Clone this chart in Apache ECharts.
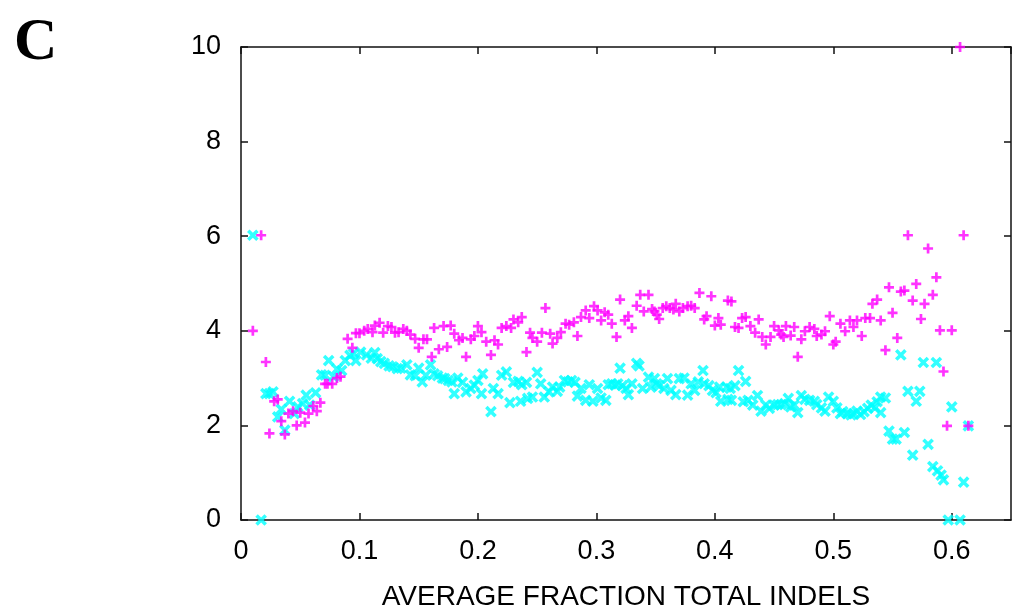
<!DOCTYPE html>
<html>
<head>
<meta charset="utf-8">
<script src="https://cdn.jsdelivr.net/npm/echarts@6/dist/echarts.min.js"></script>
<style>html,body{margin:0;padding:0;background:#fff;}#c{width:1013px;height:616px;}</style>
</head>
<body>
<div id="c"></div>
<script>
var panelLabel = 'C';
var xAxisTitle = 'AVERAGE FRACTION TOTAL INDELS';
var xTicks = [0, 0.1, 0.2, 0.3, 0.4, 0.5, 0.6];
var yTicks = [0, 2, 4, 6, 8, 10];

var magentaPoints = [
[0.010,4.00],[0.017,6.02],[0.021,3.34],[0.024,1.83],[0.028,2.51],[0.031,2.55],[0.034,2.09],[0.037,1.81],[0.040,2.25],[0.044,2.30],[0.047,2.00],[0.050,2.27],[0.054,2.06],[0.057,2.25],[0.061,2.41],[0.064,2.30],[0.067,2.48],[0.071,2.88],[0.073,2.88],[0.077,2.88],[0.081,3.00],[0.084,3.03],[0.090,3.83],[0.094,3.64],[0.097,3.95],[0.100,3.95],
[0.104,4.00],[0.107,4.04],[0.111,3.97],[0.113,4.11],[0.117,4.17],[0.120,3.96],[0.124,4.10],[0.127,4.08],[0.130,3.96],[0.133,3.97],[0.137,4.04],[0.140,4.00],[0.143,3.92],[0.147,3.83],[0.150,3.64],[0.154,3.82],[0.157,3.82],[0.161,3.45],[0.163,4.06],[0.167,3.61],[0.171,4.10],[0.174,3.66],[0.177,4.11],[0.180,3.94],[0.184,3.80],[0.187,3.85],[0.190,3.45],[0.194,3.82],[0.197,3.89],[0.200,4.10],[0.203,3.97],
[0.207,3.77],[0.211,3.49],[0.214,3.80],[0.217,3.71],[0.220,4.06],[0.224,4.10],[0.228,4.06],[0.230,4.24],[0.234,4.18],[0.237,4.29],[0.241,3.55],[0.244,3.96],[0.246,3.85],[0.250,3.77],[0.254,3.96],[0.257,4.48],[0.261,3.94],[0.263,3.73],[0.267,3.85],[0.270,3.97],[0.274,4.15],[0.277,4.13],[0.281,4.18],[0.284,3.89],[0.287,4.29],[0.291,4.43],[0.294,4.27],[0.298,4.52],[0.301,4.43],[0.304,4.22],
[0.307,4.39],[0.310,4.34],[0.313,4.15],[0.317,3.87],[0.320,4.66],[0.324,4.22],[0.327,4.31],[0.330,4.06],[0.334,4.53],[0.337,4.76],[0.340,4.41],[0.344,4.76],[0.347,4.46],[0.349,4.41],[0.351,4.34],[0.353,4.25],[0.356,4.48],[0.359,4.52],[0.362,4.48],[0.365,4.45],[0.367,4.57],[0.370,4.41],[0.373,4.48],[0.377,4.52],[0.380,4.53],[0.383,4.48],[0.387,4.80],[0.391,4.24],[0.393,4.31],[0.397,4.73],[0.400,4.11],[0.403,4.27],[0.405,4.13],
[0.411,4.64],[0.414,4.62],[0.417,4.08],[0.420,4.06],[0.423,4.27],[0.426,4.29],[0.430,4.10],[0.434,3.96],[0.437,4.24],[0.440,3.87],[0.443,3.71],[0.447,3.87],[0.450,4.10],[0.454,4.01],[0.456,3.92],[0.458,3.87],[0.460,4.10],[0.464,3.90],[0.467,4.08],[0.470,3.45],[0.473,3.82],[0.476,3.99],[0.480,4.08],[0.484,4.04],[0.486,3.89],[0.490,3.92],[0.493,3.99],[0.497,4.31],[0.500,3.71],[0.502,3.77],[0.506,4.15],
[0.510,3.99],[0.514,4.22],[0.517,4.08],[0.520,4.22],[0.524,3.89],[0.527,4.27],[0.531,4.27],[0.533,4.57],[0.537,4.66],[0.540,4.22],[0.544,3.59],[0.547,4.92],[0.550,4.38],[0.554,3.85],[0.557,4.83],[0.560,4.85],[0.563,6.02],[0.567,4.64],[0.570,4.99],[0.574,4.25],[0.577,4.57],[0.580,5.74],[0.584,4.76],[0.587,5.13],[0.590,4.01],[0.593,3.14],[0.596,1.99],[0.600,4.01],[0.607,10.0],[0.610,6.02],[0.614,1.99]
];

var cyanPoints = [
[0.010,6.02],[0.017,0.0],[0.021,2.67],[0.024,2.67],[0.027,2.71],[0.031,2.18],[0.034,2.34],[0.037,1.90],[0.041,2.51],[0.045,2.25],[0.048,2.39],[0.052,2.46],[0.055,2.64],[0.058,2.43],[0.063,2.69],[0.068,3.07],[0.071,3.06],[0.074,3.37],[0.078,3.03],[0.081,3.19],[0.085,3.16],[0.088,3.37],[0.092,3.48],[0.095,3.52],[0.097,3.37],[0.101,3.55],
[0.106,3.49],[0.110,3.42],[0.113,3.54],[0.115,3.41],[0.118,3.35],[0.121,3.31],[0.125,3.26],[0.128,3.24],[0.132,3.20],[0.135,3.21],[0.140,3.28],[0.143,3.07],[0.147,3.05],[0.150,3.21],[0.153,2.92],[0.156,3.06],[0.160,3.28],[0.163,3.09],[0.166,3.05],[0.170,3.00],[0.172,2.99],[0.175,2.95],[0.178,2.92],[0.180,2.67],[0.183,3.00],[0.187,2.91],[0.190,2.71],[0.194,2.78],[0.197,2.85],[0.200,2.95],[0.203,2.67],
[0.204,3.09],[0.211,2.29],[0.213,2.78],[0.217,2.67],[0.220,3.06],[0.224,3.13],[0.227,2.48],[0.230,2.91],[0.234,2.93],[0.236,2.51],[0.237,2.86],[0.241,2.91],[0.242,2.57],[0.246,2.60],[0.250,3.12],[0.253,2.88],[0.256,2.60],[0.260,2.71],[0.263,2.81],[0.267,2.72],[0.269,2.81],[0.273,2.95],[0.276,2.92],[0.279,2.95],[0.282,2.91],[0.284,2.62],[0.287,2.78],[0.291,2.53],[0.294,2.86],[0.297,2.51],[0.301,2.78],[0.304,2.58],
[0.308,2.53],[0.310,2.86],[0.313,2.88],[0.316,2.85],[0.318,2.88],[0.320,3.21],[0.322,2.84],[0.325,2.78],[0.327,2.65],[0.330,2.88],[0.334,3.31],[0.336,3.26],[0.339,2.78],[0.344,3.02],[0.346,2.81],[0.349,2.99],[0.351,2.88],[0.353,2.84],[0.357,2.78],[0.360,2.99],[0.363,2.74],[0.367,2.65],[0.370,2.99],[0.374,3.00],[0.377,2.64],[0.380,2.88],[0.383,2.74],[0.386,2.92],[0.390,3.16],[0.391,2.88],[0.395,2.84],[0.398,2.74],[0.401,2.69],[0.405,2.51],
[0.404,2.81],[0.410,2.81],[0.413,2.78],[0.417,2.84],[0.411,2.55],[0.414,2.53],[0.420,3.16],[0.424,2.50],[0.426,2.93],[0.428,2.53],[0.432,2.43],[0.436,2.63],[0.439,2.30],[0.443,2.43],[0.446,2.36],[0.450,2.43],[0.453,2.44],[0.456,2.44],[0.459,2.46],[0.462,2.57],[0.464,2.39],[0.467,2.43],[0.470,2.27],[0.473,2.63],[0.476,2.55],[0.480,2.53],[0.484,2.51],[0.486,2.44],[0.490,2.37],[0.493,2.30],[0.496,2.60],[0.500,2.51],[0.503,2.37],[0.506,2.25],
[0.508,2.29],[0.512,2.25],[0.515,2.22],[0.517,2.25],[0.520,2.30],[0.523,2.23],[0.526,2.29],[0.529,2.36],[0.532,2.43],[0.535,2.37],[0.537,2.50],[0.540,2.60],[0.544,2.58],[0.540,2.27],[0.547,1.88],[0.550,1.71],[0.553,1.71],[0.557,3.49],[0.560,1.85],[0.563,2.72],[0.567,1.37],[0.570,2.51],[0.573,2.72],[0.576,3.33],[0.580,1.60],[0.584,1.13],[0.587,3.33],[0.588,1.04],[0.591,0.95],[0.593,0.85],[0.597,0.0],[0.600,2.39],[0.607,0.0],[0.610,0.80],[0.614,1.99]
];

var PLUS = 'path://M3.65,0H6.35V3.65H10V6.35H6.35V10H3.65V6.35H0V3.65H3.65Z';
var axisCol = '#111';
var font = 'Liberation Sans, Arial, sans-serif';

function xAx(pos, showLabels) {
  return {
    type: 'value', position: pos, min: 0, max: 0.65, interval: 0.1,
    name: showLabels ? xAxisTitle : '', nameLocation: 'middle', nameGap: 63,
    nameTextStyle: {fontSize: 28, color: '#000', fontFamily: font},
    axisLine: {show: true, onZero: false, lineStyle: {color: axisCol, width: 1.5}},
    axisTick: {show: true, inside: true, length: 7, lineStyle: {color: axisCol, width: 1.5}},
    splitLine: {show: false},
    axisLabel: {show: showLabels, fontSize: 27, color: '#000', fontFamily: font, margin: 18,
      showMaxLabel: false,
      formatter: function (v) { var r = Math.round(v * 10) / 10; return xTicks.indexOf(r) >= 0 ? String(r) : ''; }}
  };
}
function yAx(pos, showLabels) {
  return {
    type: 'value', position: pos, min: 0, max: 10, interval: 2,
    axisLine: {show: true, onZero: false, lineStyle: {color: axisCol, width: 1.5}},
    axisTick: {show: true, inside: true, length: 7, lineStyle: {color: axisCol, width: 1.5}},
    splitLine: {show: false},
    axisLabel: {show: showLabels, fontSize: 27, color: '#000', fontFamily: font, margin: 20,
      formatter: function (v) { return yTicks.indexOf(v) >= 0 ? String(v) : ''; }}
  };
}

var chart = echarts.init(document.getElementById('c'), null, {renderer: 'canvas'});
chart.setOption({
  animation: false,
  backgroundColor: '#fff',
  grid: {left: 241, right: 2, top: 47, bottom: 94, containLabel: false},
  xAxis: [xAx('bottom', true), xAx('top', false)],
  yAxis: [yAx('left', true), yAx('right', false)],
  graphic: [{type: 'text', left: 14, top: 13,
    style: {text: panelLabel, font: 'bold 60px "Liberation Serif", "Times New Roman", serif', fill: '#000'}}],
  series: [
    {type: 'scatter', data: cyanPoints, symbol: PLUS, symbolRotate: 45, symbolSize: 13,
      itemStyle: {color: '#00ffff'}, emphasis: {disabled: true}},
    {type: 'scatter', data: magentaPoints, symbol: PLUS, symbolSize: 10,
      itemStyle: {color: '#ff00ff'}, emphasis: {disabled: true}}
  ]
});
</script>
</body>
</html>
